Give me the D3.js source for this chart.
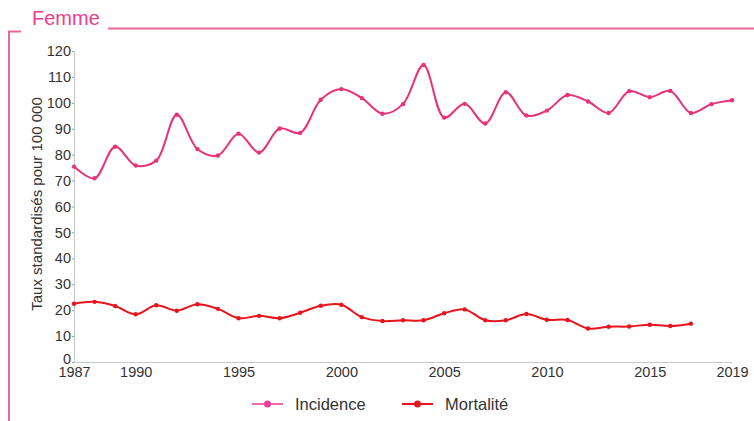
<!DOCTYPE html>
<html><head><meta charset="utf-8">
<script src="https://cdn.jsdelivr.net/npm/d3@7"></script>
<style>body{margin:0;background:#fff}svg{display:block;font-family:"Liberation Sans",Arial,sans-serif}</style>
</head><body>
<svg id="c" width="754" height="421"></svg>
<script>
const years = d3.range(1987, 2020);
const incidence = [75.4,70.9,83.1,75.8,77.7,95.4,82.2,79.7,88.1,80.8,90.1,88.4,101.2,105.3,101.8,95.8,99.5,114.6,94.3,99.6,92.0,104.1,95.1,97.0,103.0,100.5,96.1,104.5,102.2,104.6,96.1,99.5,101.0];
const mortalite = [22.5,23.2,21.6,18.4,21.9,19.8,22.3,20.5,16.9,17.8,16.9,19.0,21.7,22.1,17.3,15.8,16.1,16.1,18.8,20.3,16.1,16.1,18.5,16.3,16.2,12.9,13.6,13.7,14.4,13.9,14.8];
const xTicks = [1987,1990,1995,2000,2005,2010,2015,2019];
const yTicks = d3.range(0,121,10);
const seriesNames = ["Incidence","Mortalité"];
const colors = ["#e8327a","#e8141c"];
const legendLineColors = ["#ec6aa6","#e8141c"];
const markerColors = ["#e8409a","#e8141c"];

const svg = d3.select("#c");
const frame = "#e8679c";
// frame
svg.append("text").attr("x",32).attr("y",25).attr("fill","#e8408a").attr("font-size",20).text("Femme");
svg.append("line").attr("x1",108).attr("x2",754).attr("y1",28.5).attr("y2",28.5).attr("stroke",frame).attr("stroke-width",2);
svg.append("path").attr("d","M21,31.5H9V421").attr("fill","none").attr("stroke",frame).attr("stroke-width",2);

const x = d3.scaleLinear().domain([1987,2019]).range([74,732]);
const y = d3.scaleLinear().domain([0,120]).range([362,51]);

const ff = "Liberation Sans, Arial, sans-serif";
// axes
const ya = svg.append("g").attr("transform","translate(74,0)").call(d3.axisLeft(y).tickValues(yTicks).tickSize(2).tickPadding(1));
ya.select(".domain").attr("stroke","#c8c8c8");
ya.selectAll(".tick line").attr("stroke","#999");
ya.selectAll("text").attr("font-size",14.5).attr("fill","#333").attr("font-family",ff);
ya.selectAll(".tick").filter(d=>d===0).select("text").attr("dy","0.1em");
const xa = svg.append("g").attr("transform","translate(0,362)").call(d3.axisBottom(x).tickValues(xTicks).tickFormat(d3.format("d")).tickSize(0).tickPadding(5));
xa.select(".domain").attr("stroke","#c8c8c8");
xa.selectAll("text").attr("font-size",14.5).attr("fill","#333").attr("font-family",ff);

svg.append("text").attr("transform","translate(42,204) rotate(-90)").attr("text-anchor","middle")
  .attr("font-size",15).attr("fill","#333").text("Taux standardisés pour 100 000");

const data = [incidence, mortalite];
const line = d3.line().x((d,i)=>x(years[i])).y(d=>y(d)).curve(d3.curveCatmullRom.alpha(0.5));
data.forEach((s,k)=>{
  svg.append("path").datum(s).attr("d",line).attr("fill","none").attr("stroke",colors[k]).attr("stroke-width",2);
  svg.selectAll(null).data(s).enter().append("circle")
    .attr("cx",(d,i)=>x(years[i])).attr("cy",d=>y(d)).attr("r",2.2).attr("fill",colors[k]);
});

// legend
const lx = [252,402];
seriesNames.forEach((n,k)=>{
  const g = svg.append("g").attr("transform",`translate(${lx[k]},404)`);
  g.append("line").attr("x1",0).attr("x2",31).attr("stroke",legendLineColors[k]).attr("stroke-width",2);
  g.append("circle").attr("cx",15.5).attr("r",3.5).attr("fill",markerColors[k]);
  g.append("text").attr("x",43).attr("y",6).attr("font-size",16.5).attr("fill","#333").text(n);
});
</script>
</body></html>
